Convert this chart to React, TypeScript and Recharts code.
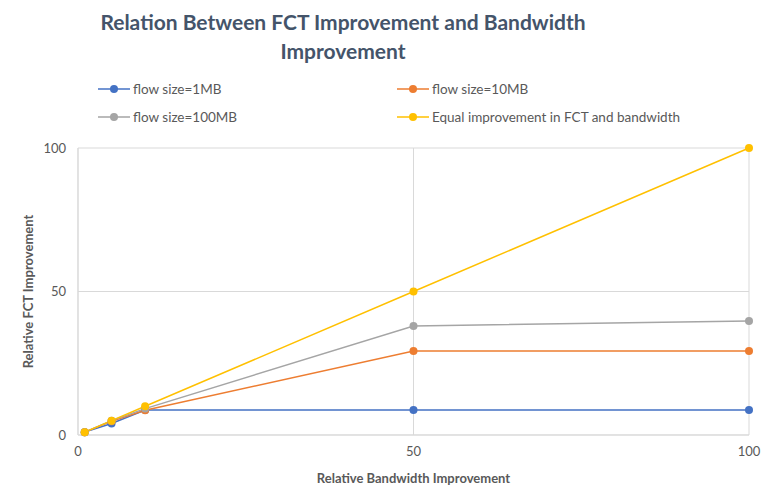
import React from "react";
import { LineChart, Line, XAxis, YAxis, CartesianGrid, Label } from "recharts";

const bandwidth = [1, 5, 10, 50, 100];
const flow1MB = [1, 4, 8.7, 8.7, 8.7];
const flow10MB = [1, 4.8, 8.6, 29.3, 29.3];
const flow100MB = [1, 5, 9.2, 38, 39.7];
const equalImprovement = [1, 5, 10, 50, 100];
const axisTicks = [0, 50, 100];

const seriesList = [
  { key: "mb1", name: "flow size=1MB", color: "#4472C4", values: flow1MB },
  { key: "mb10", name: "flow size=10MB", color: "#ED7D31", values: flow10MB },
  { key: "mb100", name: "flow size=100MB", color: "#A5A5A5", values: flow100MB },
  { key: "equal", name: "Equal improvement in FCT and bandwidth", color: "#FFC000", values: equalImprovement },
];

const data = bandwidth.map((x, i) => {
  const row: any = { x };
  seriesList.forEach((s) => (row[s.key] = s.values[i]));
  return row;
});

const FONT = "Lato, 'Liberation Sans', sans-serif";
const TEXT = "#595959";

function LegendItem({ name, color, left, top }: any) {
  return (
    <div style={{ position: "absolute", left, top, display: "flex", alignItems: "center", fontSize: 13.5, color: TEXT }}>
      <svg width={32} height={10} style={{ marginRight: 3 }}>
        <line x1={0} y1={5} x2={32} y2={5} stroke={color} strokeWidth={1.5} />
        <circle cx={16} cy={5} r={4} fill={color} />
      </svg>
      <span>{name}</span>
    </div>
  );
}

export default function App() {
  const legendPos = [
    { left: 98, top: 81 },
    { left: 397, top: 81 },
    { left: 98, top: 109 },
    { left: 397, top: 109 },
  ];
  return (
    <div style={{ position: "absolute", left: 0, top: 0, width: 777, height: 498, background: "#fff", fontFamily: FONT }}>
      <div
        style={{
          position: "absolute",
          left: 0,
          width: 686,
          top: 7,
          textAlign: "center",
          fontSize: 21,
          fontWeight: 700,
          color: "#44546A",
          lineHeight: "29px",
        }}
      >
        Relation Between FCT Improvement and Bandwidth
        <br />
        Improvement
      </div>
      {seriesList.map((s, i) => (
        <LegendItem key={s.key} name={s.name} color={s.color} left={legendPos[i].left} top={legendPos[i].top} />
      ))}
      <LineChart width={777} height={498} data={data} margin={{ top: 148, right: 28, bottom: 13, left: 18 }}>
        <CartesianGrid stroke="#D9D9D9" horizontalValues={axisTicks} verticalValues={axisTicks} />
        <XAxis
          dataKey="x"
          type="number"
          domain={[0, 100]}
          ticks={axisTicks}
          height={50}
          stroke="#D9D9D9"
          tickLine={false}
          tickSize={0}
          tickMargin={12}
          tick={{ fill: TEXT, fontSize: 13, fontFamily: FONT }}
        >
          <Label
            value="Relative Bandwidth Improvement"
            position="insideBottom"
            offset={2}
            style={{ fill: TEXT, fontSize: 13, fontWeight: 700, fontFamily: FONT }}
          />
        </XAxis>
        <YAxis
          type="number"
          domain={[0, 100]}
          ticks={axisTicks}
          width={60}
          stroke="#D9D9D9"
          tickLine={false}
          tickSize={0}
          tickMargin={12}
          tick={{ fill: TEXT, fontSize: 13, fontFamily: FONT }}
        >
          <Label
            value="Relative FCT Improvement"
            angle={-90}
            position="insideLeft"
            offset={10}
            style={{ fill: TEXT, fontSize: 13, fontWeight: 700, fontFamily: FONT, textAnchor: "middle" }}
          />
        </YAxis>
        {seriesList.map((s) => (
          <Line
            key={s.key}
            dataKey={s.key}
            name={s.name}
            type="linear"
            stroke={s.color}
            strokeWidth={1.5}
            dot={{ r: 4, fill: s.color, stroke: "none" }}
            activeDot={false}
            isAnimationActive={false}
          />
        ))}
      </LineChart>
    </div>
  );
}
